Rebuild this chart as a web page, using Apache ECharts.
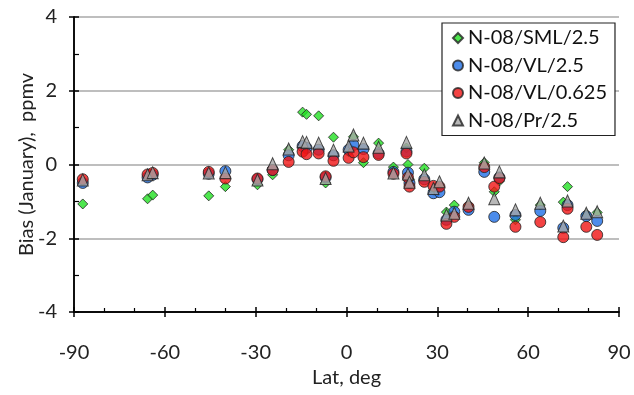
<!DOCTYPE html>
<html><head><meta charset="utf-8">
<script src="https://cdn.jsdelivr.net/npm/echarts@6/dist/echarts.min.js"></script>
<style>html,body{margin:0;padding:0;background:#fff}#c{width:634px;height:395px}</style>
</head><body><div id="c"></div>
<script>
const lat     = [-87.1,-65.7,-64.0,-45.5,-40.0,-29.4,-24.4,-19.1,-14.5,-13.2,-9.2,-6.9,-4.3,0.7,2.3,5.6,10.6,15.5,19.8,20.3,20.8,25.7,28.7,30.7,33.0,35.6,40.3,45.5,48.8,50.5,55.8,64.0,71.6,73.0,79.2,82.8];
const sml25   = [-1.07,-0.93,-0.83,-0.85,-0.60,-0.55,-0.28,0.40,1.42,1.36,1.32,-0.50,0.74,0.35,0.75,0.05,0.58,-0.07,0.45,0.00,-0.40,-0.10,-0.70,-0.60,-1.29,-1.10,-1.10,0.05,-0.74,-0.45,-1.50,-1.10,-1.02,-0.60,-1.35,-1.30];
const vl25    = [-0.50,-0.35,-0.28,-0.25,-0.18,-0.40,-0.15,0.25,0.50,0.45,0.40,-0.35,0.25,0.40,0.53,0.42,0.30,-0.20,0.35,-0.22,-0.50,-0.40,-0.78,-0.75,-1.50,-1.28,-1.23,-0.20,-1.42,-0.35,-1.37,-1.26,-1.72,-1.10,-1.40,-1.53];
const vl0625  = [-0.40,-0.27,-0.23,-0.20,-0.38,-0.38,-0.15,0.07,0.35,0.28,0.30,-0.32,0.10,0.18,0.33,0.20,0.26,-0.25,0.30,-0.35,-0.60,-0.47,-0.58,-0.60,-1.61,-1.42,-1.15,-0.07,-0.60,-0.37,-1.69,-1.56,-1.97,-1.20,-1.69,-1.91];
const pr25    = [-0.42,-0.28,-0.22,-0.23,-0.22,-0.42,0.02,0.42,0.62,0.60,0.58,-0.38,0.39,0.50,0.80,0.58,0.47,-0.23,0.60,-0.26,-0.48,-0.28,-0.65,-0.47,-1.37,-1.32,-1.05,0.04,-0.93,-0.20,-1.23,-1.05,-1.67,-0.99,-1.32,-1.28];
const seriesNames = ['N-08/SML/2.5','N-08/VL/2.5','N-08/VL/0.625','N-08/Pr/2.5'];
const xTicks = [-90,-60,-30,0,30,60,90];
const yTicks = [-4,-2,0,2,4];

const FONT = 'Lato';
const FS = 20;
const pts = arr => lat.map((x,i)=>[x,arr[i]]);
const chart = echarts.init(document.getElementById('c'), null, {renderer:'canvas'});
const axisLine = {show:true, onZero:false, lineStyle:{color:'#000', width:1.5}};
chart.setOption({
  animation:false,
  textStyle:{fontFamily:FONT},
  grid:{left:74, right:15, top:17, bottom:83, containLabel:false},
  legend:{
    orient:'vertical', left:442, top:23,
    padding:[4,8,4,10], itemGap:5.5,
    itemWidth:10, itemHeight:10,
    backgroundColor:'#fff', borderColor:'#222', borderWidth:1.2,
    textStyle:{fontFamily:FONT, fontSize:FS, color:'#111', lineHeight:22},
    data:seriesNames.map(n=>({name:n}))
  },
  xAxis:[
    {type:'value', min:xTicks[0], max:xTicks[xTicks.length-1], interval:30, position:'bottom',
     name:'Lat, deg', nameLocation:'middle', nameGap:56, nameMoveOverlap:false,
     nameTextStyle:{fontFamily:FONT, fontSize:FS, color:'#222'},
     axisLine:axisLine, axisTick:{show:true, length:5, lineStyle:{color:'#000', width:1.5}},
     axisLabel:{fontFamily:FONT, fontSize:FS, color:'#222', margin:31},
     splitLine:{show:false}},
    {type:'value', min:xTicks[0], max:xTicks[xTicks.length-1], interval:30, position:'bottom',
     axisLine:axisLine, axisTick:{show:true, inside:true, length:5, lineStyle:{color:'#000', width:1.5}},
     minorTick:{show:true, splitNumber:3, length:4, lineStyle:{color:'#000', width:1.2}},
     axisLabel:{show:false}, splitLine:{show:false}}
  ],
  yAxis:[
    {type:'value', min:yTicks[0], max:yTicks[yTicks.length-1], interval:2, position:'left',
     name:'Bias (January),  ppmv', nameLocation:'middle', nameGap:37, nameRotate:90, nameMoveOverlap:false,
     nameTextStyle:{fontFamily:FONT, fontSize:FS, color:'#222'},
     axisLine:axisLine, axisTick:{show:true, length:5, lineStyle:{color:'#000', width:1.5}},
     axisLabel:{fontFamily:FONT, fontSize:FS, color:'#222', margin:17},
     splitLine:{show:true, lineStyle:{color:'#a8a8a8', width:1.5}}},
    {type:'value', min:yTicks[0], max:yTicks[yTicks.length-1], interval:2, position:'left',
     axisLine:axisLine, axisTick:{show:true, inside:true, length:5, lineStyle:{color:'#000', width:1.5}},
     minorTick:{show:true, splitNumber:2, length:5, lineStyle:{color:'#000', width:1.2}},
     axisLabel:{show:false}, splitLine:{show:false}}
  ],
  series:[
    {name:seriesNames[0], type:'scatter', symbol:'diamond', symbolSize:10, data:pts(sml25),
     itemStyle:{color:'#22e022', borderColor:'#222', borderWidth:1}, z:2},
    {name:seriesNames[1], type:'scatter', symbol:'circle', symbolSize:11, data:pts(vl25),
     itemStyle:{color:'#1f6fe6', borderColor:'#222', borderWidth:1}, z:3},
    {name:seriesNames[2], type:'scatter', symbol:'circle', symbolSize:11, data:pts(vl0625),
     itemStyle:{color:'#f01414', borderColor:'#222', borderWidth:1}, z:4},
    {name:seriesNames[3], type:'scatter', symbol:'triangle', symbolSize:[11,12], data:pts(pr25),
     itemStyle:{color:'#a6a6a6', borderColor:'#222', borderWidth:1}, z:5}
  ]
});
</script></body></html>
